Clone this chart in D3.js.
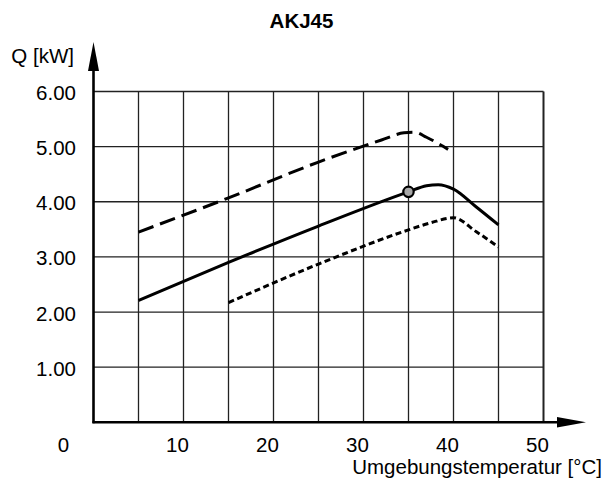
<!DOCTYPE html>
<html>
<head>
<meta charset="utf-8">
<script src="https://cdn.jsdelivr.net/npm/d3@7"></script>
<style>
  body { margin: 0; background: #fff; }
  text { font-family: "Liberation Sans", Arial, sans-serif; font-size: 20.5px; fill: #000; }
</style>
</head>
<body>
<script>
var width = 606;
var height = 483;

// Q [kW] over ambient temperature [°C]
var nominalT = [5, 15, 25, 35, 37, 38.3, 40, 42.5, 45];
var nominalQ = [2.21, 2.90, 3.56, 4.18, 4.29, 4.31, 4.23, 3.91, 3.58];

var upperT = [5, 15, 25, 32, 34.5, 35.7, 37, 39.4];
var upperQ = [3.45, 4.07, 4.72, 5.12, 5.25, 5.26, 5.17, 4.95];

var lowerT = [15, 25, 35, 37.5, 40, 42.5, 45];
var lowerQ = [2.17, 2.87, 3.49, 3.62, 3.71, 3.46, 3.18];

var pointT = [35];
var pointQ = [4.18];

var xTicks = [0, 10, 20, 30, 40, 50];
var xGrid = [5, 10, 15, 20, 25, 30, 35, 40, 45, 50];
var yTicks = [1, 2, 3, 4, 5, 6];

var svg = d3.select('body').append('svg')
  .attr('width', width)
  .attr('height', height);

var x = d3.scaleLinear().domain([0, 50]).range([93.5, 543.5]);
var y = d3.scaleLinear().domain([0, 6]).range([422.3, 91.5]);

// grid
svg.append('g').selectAll('line')
  .data(xGrid)
  .enter().append('line')
  .attr('x1', function(d) { return x(d); })
  .attr('x2', function(d) { return x(d); })
  .attr('y1', y(0))
  .attr('y2', y(6))
  .attr('stroke', '#222')
  .attr('stroke-width', function(d) { return d === 50 ? 2 : 1.3; });

svg.append('g').selectAll('line')
  .data(yTicks)
  .enter().append('line')
  .attr('x1', x(0))
  .attr('x2', x(50))
  .attr('y1', function(d) { return y(d); })
  .attr('y2', function(d) { return y(d); })
  .attr('stroke', '#222')
  .attr('stroke-width', 1.3);

// axes with arrows
svg.append('line')
  .attr('x1', x(0)).attr('x2', x(0))
  .attr('y1', y(0) + 1).attr('y2', 60)
  .attr('stroke', '#000').attr('stroke-width', 2.6);
svg.append('path')
  .attr('d', 'M' + (x(0) - 5.5) + ',71L' + x(0) + ',42L' + (x(0) + 5.5) + ',71Z')
  .attr('fill', '#000');

svg.append('line')
  .attr('x1', x(0) - 1).attr('x2', 565)
  .attr('y1', y(0)).attr('y2', y(0))
  .attr('stroke', '#000').attr('stroke-width', 2.6);
svg.append('path')
  .attr('d', 'M557,' + (y(0) - 5.2) + 'L586,' + y(0) + 'L557,' + (y(0) + 5.2) + 'Z')
  .attr('fill', '#000');

// tick labels
var yAxis = svg.append('g')
  .attr('transform', 'translate(' + x(0) + ',0)')
  .call(d3.axisLeft(y).tickValues(yTicks).tickSize(0).tickPadding(17.5)
    .tickFormat(function(d) { return d.toFixed(2); }));
yAxis.select('.domain').remove();
yAxis.selectAll('text')
  .attr('dy', '0.39em')
  .style('font-size', '20.5px')
  .style('font-family', '"Liberation Sans", Arial, sans-serif');

var xAxis = svg.append('g')
  .attr('transform', 'translate(0,' + y(0) + ')')
  .call(d3.axisBottom(x).tickValues(xTicks).tickSize(0).tickFormat(d3.format('d')));
xAxis.select('.domain').remove();
xAxis.selectAll('text')
  .attr('y', 30)
  .attr('dy', 0)
  .attr('x', function(d) { return d === 0 ? -30.5 : -6.5; })
  .style('font-size', '20.5px')
  .style('font-family', '"Liberation Sans", Arial, sans-serif');

// curves
var line = d3.line()
  .x(function(d) { return x(d[0]); })
  .y(function(d) { return y(d[1]); })
  .curve(d3.curveMonotoneX);

var zip = function(a, b) {
  return a.map(function(v, i) { return [v, b[i]]; });
};

svg.append('path')
  .datum(zip(upperT, upperQ))
  .attr('d', line)
  .attr('fill', 'none')
  .attr('stroke', '#000')
  .attr('stroke-width', 3)
  .attr('stroke-dasharray', '16,7');

svg.append('path')
  .datum(zip(lowerT, lowerQ))
  .attr('d', line)
  .attr('fill', 'none')
  .attr('stroke', '#000')
  .attr('stroke-width', 3)
  .attr('stroke-dasharray', '6,3.5');

svg.append('path')
  .datum(zip(nominalT, nominalQ))
  .attr('d', line)
  .attr('fill', 'none')
  .attr('stroke', '#000')
  .attr('stroke-width', 3);

svg.append('g').selectAll('circle')
  .data(zip(pointT, pointQ))
  .enter().append('circle')
  .attr('cx', function(d) { return x(d[0]); })
  .attr('cy', function(d) { return y(d[1]); })
  .attr('r', 5.2)
  .attr('fill', '#a8a8a8')
  .attr('stroke', '#000')
  .attr('stroke-width', 2.2);

// titles
svg.append('text')
  .attr('x', 301.5)
  .attr('y', 28)
  .attr('text-anchor', 'middle')
  .style('font-weight', 'bold')
  .text('AKJ45');

svg.append('text')
  .attr('x', 74)
  .attr('y', 63)
  .attr('text-anchor', 'end')
  .text('Q [kW]');

svg.append('text')
  .attr('x', 602)
  .attr('y', 474)
  .attr('text-anchor', 'end')
  .text('Umgebungstemperatur [°C]');
</script>
</body>
</html>
